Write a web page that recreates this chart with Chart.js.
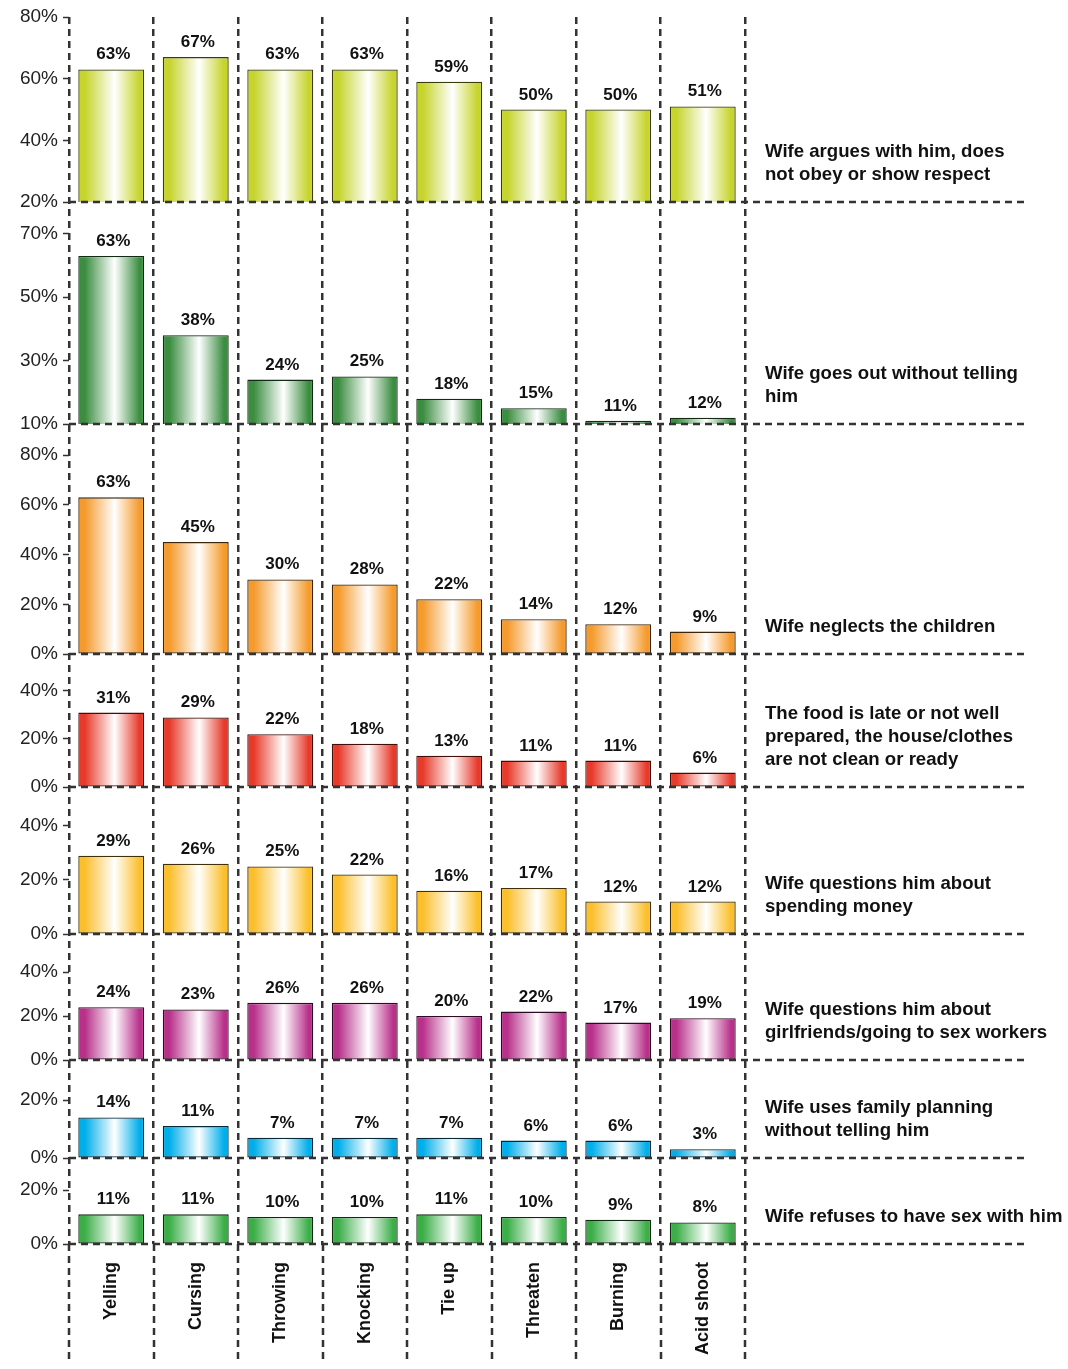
<!DOCTYPE html>
<html>
<head>
<meta charset="utf-8">
<script src="https://cdn.jsdelivr.net/npm/chart.js@4.4.0/dist/chart.umd.min.js"></script>
<style>
  html, body { margin: 0; padding: 0; background: #fff; }
  #wrap { position: relative; width: 1068px; height: 1369px; }
</style>
</head>
<body>
<div id="wrap"><canvas id="chart"></canvas></div>
<script>
// Categories (types of violence)
const categories = ['Yelling', 'Cursing', 'Throwing', 'Knocking', 'Tie up', 'Threaten', 'Burning', 'Acid shoot'];

// Percent of men who think the act is justified, per reason
const argues     = [63, 67, 63, 63, 59, 50, 50, 51];
const goesOut    = [63, 38, 24, 25, 18, 15, 11, 12];
const neglects   = [63, 45, 30, 28, 22, 14, 12, 9];
const foodLate   = [31, 29, 22, 18, 13, 11, 11, 6];
const money      = [29, 26, 25, 22, 16, 17, 12, 12];
const girlfriend = [24, 23, 26, 26, 20, 22, 17, 19];
const planning   = [14, 11, 7, 7, 7, 6, 6, 3];
const refusesSex = [11, 11, 10, 10, 11, 10, 9, 8];

// Tick labels of each panel
const arguesTicks     = [20, 40, 60, 80];
const goesOutTicks    = [10, 30, 50, 70];
const neglectsTicks   = [0, 20, 40, 60, 80];
const foodLateTicks   = [0, 20, 40];
const moneyTicks      = [0, 20, 40];
const girlfriendTicks = [0, 20, 40];
const planningTicks   = [0, 20];
const refusesSexTicks = [0, 20];

// Reason texts shown on the right
const arguesText     = ['Wife argues with him, does', 'not obey or show respect'];
const goesOutText    = ['Wife goes out without telling', 'him'];
const neglectsText   = ['Wife neglects the children'];
const foodLateText   = ['The food is late or not well', 'prepared, the house/clothes', 'are not clean or ready'];
const moneyText      = ['Wife questions him about', 'spending money'];
const girlfriendText = ['Wife questions him about', 'girlfriends/going to sex workers'];
const planningText   = ['Wife uses family planning', 'without telling him'];
const refusesSexText = ['Wife refuses to have sex with him'];

const FONT = "'Liberation Sans', Arial, sans-serif";
const LINE = '#333';
const DASH = [7, 5];
const BAR_PCT = 0.78;

const panels = [
    { values: argues,     ticks: arguesTicks,     text: arguesText,     min: 20, max: 80,   weight: 185, color: '#c6d42c', edge: '#3a3c10' },
    { values: goesOut,    ticks: goesOutTicks,    text: goesOutText,    min: 10, max: 80,   weight: 222, color: '#3b8d40', edge: '#132a14' },
    { values: neglects,   ticks: neglectsTicks,   text: neglectsText,   min: 0,  max: 92.5, weight: 230, color: '#f59a2c', edge: '#3e250a' },
    { values: foodLate,   ticks: foodLateTicks,   text: foodLateText,   min: 0,  max: 55.4, weight: 133, color: '#e73a2b', edge: '#400f0a' },
    { values: money,      ticks: moneyTicks,      text: moneyText,      min: 0,  max: 54.4, weight: 147, color: '#fbbf2c', edge: '#40300a' },
    { values: girlfriend, ticks: girlfriendTicks, text: girlfriendText, min: 0,  max: 57.3, weight: 126, color: '#b8308a', edge: '#300a24' },
    { values: planning,   ticks: planningTicks,   text: planningText,   min: 0,  max: 33.8, weight: 98,  color: '#00aeea', edge: '#062a3a' },
    { values: refusesSex, ticks: refusesSexTicks, text: refusesSexText, min: 0,  max: 31.9, weight: 86,  color: '#3cae48', edge: '#102a12' }
];

// Horizontal white-centre gradient for each bar
function barGradient(ctx, color) {
    const chart = ctx.chart;
    const xs = chart.scales.x;
    if (!chart.chartArea || !xs || ctx.type !== 'data') {
        return color;
    }
    const cx = xs.getPixelForValue(ctx.dataIndex);
    const half = xs.width / categories.length * BAR_PCT / 2;
    const g = chart.ctx.createLinearGradient(cx - half, 0, cx + half, 0);
    g.addColorStop(0, color);
    g.addColorStop(0.1, color);
    g.addColorStop(0.55, '#ffffff');
    g.addColorStop(0.93, color);
    g.addColorStop(1, color);
    return g;
}

const scales = {
    x: {
        type: 'category',
        offset: true,
        grid: { offset: true, color: LINE, lineWidth: 2.5, drawTicks: false },
        border: { display: false, dash: DASH },
        ticks: {
            maxRotation: 90,
            minRotation: 90,
            autoSkip: false,
            padding: 18,
            color: '#111',
            font: { family: FONT, size: 18, weight: 'bold' }
        },
        afterFit: function(s) { s.height = 116; }
    }
};

panels.forEach(function(p, i) {
    scales['y' + i] = {
        type: 'linear',
        position: 'left',
        stack: 'panels',
        stackWeight: p.weight,
        weight: panels.length - i,
        min: p.min,
        max: p.max,
        afterBuildTicks: function(s) {
            s.ticks = p.ticks.map(function(v) { return { value: v }; });
        },
        grid: { drawOnChartArea: false, drawTicks: true, tickLength: 6, tickColor: LINE, tickWidth: 1.5 },
        border: { display: false },
        ticks: {
            padding: 5,
            color: '#222',
            font: { family: FONT, size: 19 },
            callback: function(v) { return v + '%'; }
        },
        afterFit: function(s) { s.width = 69; }
    };
});

// Value labels above bars, dashed panel baselines and reason texts
const decorPlugin = {
    id: 'decor',
    afterDatasetsDraw: function(chart) {
        const ctx = chart.ctx;
        const area = chart.chartArea;
        const xs = chart.scales.x;
        ctx.save();

        // value labels
        ctx.fillStyle = '#111';
        ctx.font = 'bold 17px ' + FONT;
        ctx.textAlign = 'center';
        ctx.textBaseline = 'alphabetic';
        chart.data.datasets.forEach(function(ds, di) {
            chart.getDatasetMeta(di).data.forEach(function(bar, j) {
                ctx.fillText(ds.data[j] + '%', bar.x + 2, bar.y - 10);
            });
        });

        // dashed baselines across to the texts
        ctx.strokeStyle = LINE;
        ctx.lineWidth = 2.5;
        ctx.setLineDash(DASH);
        panels.forEach(function(p, i) {
            const y = Math.round(chart.scales['y' + i].bottom);
            ctx.beginPath();
            ctx.moveTo(area.left, y);
            ctx.lineTo(1027, y);
            ctx.stroke();
        });

        // vertical dashed lines continue through the category labels
        const step = xs.width / categories.length;
        for (let k = 0; k <= categories.length; k++) {
            const x = Math.round(xs.left + k * step);
            ctx.beginPath();
            ctx.moveTo(x, area.bottom);
            ctx.lineTo(x, 1362);
            ctx.stroke();
        }

        // reason texts
        ctx.setLineDash([]);
        ctx.fillStyle = '#111';
        ctx.font = 'bold 18.6px ' + FONT;
        ctx.textAlign = 'left';
        ctx.textBaseline = 'middle';
        panels.forEach(function(p, i) {
            const bottom = chart.scales['y' + i].bottom;
            const n = p.text.length;
            p.text.forEach(function(line, k) {
                ctx.fillText(line, 765, bottom - 27 - (n - 1 - k) * 23);
            });
        });
        ctx.restore();
    }
};

document.addEventListener('DOMContentLoaded', function() {
    const canvas = document.getElementById('chart');
    canvas.width = 1068;
    canvas.height = 1369;
    new Chart(canvas, {
        type: 'bar',
        data: {
            labels: categories,
            datasets: panels.map(function(p, i) {
                return {
                    data: p.values,
                    yAxisID: 'y' + i,
                    grouped: false,
                    barPercentage: BAR_PCT,
                    categoryPercentage: 1,
                    backgroundColor: function(ctx) { return barGradient(ctx, p.color); },
                    borderColor: p.edge,
                    borderWidth: 1.3,
                    borderSkipped: false
                };
            })
        },
        options: {
            responsive: false,
            animation: false,
            layout: { padding: { top: 17, right: 323, bottom: 9, left: 0 } },
            plugins: {
                legend: { display: false },
                tooltip: { enabled: false }
            },
            scales: scales
        },
        plugins: [decorPlugin]
    });
});
</script>
</body>
</html>
